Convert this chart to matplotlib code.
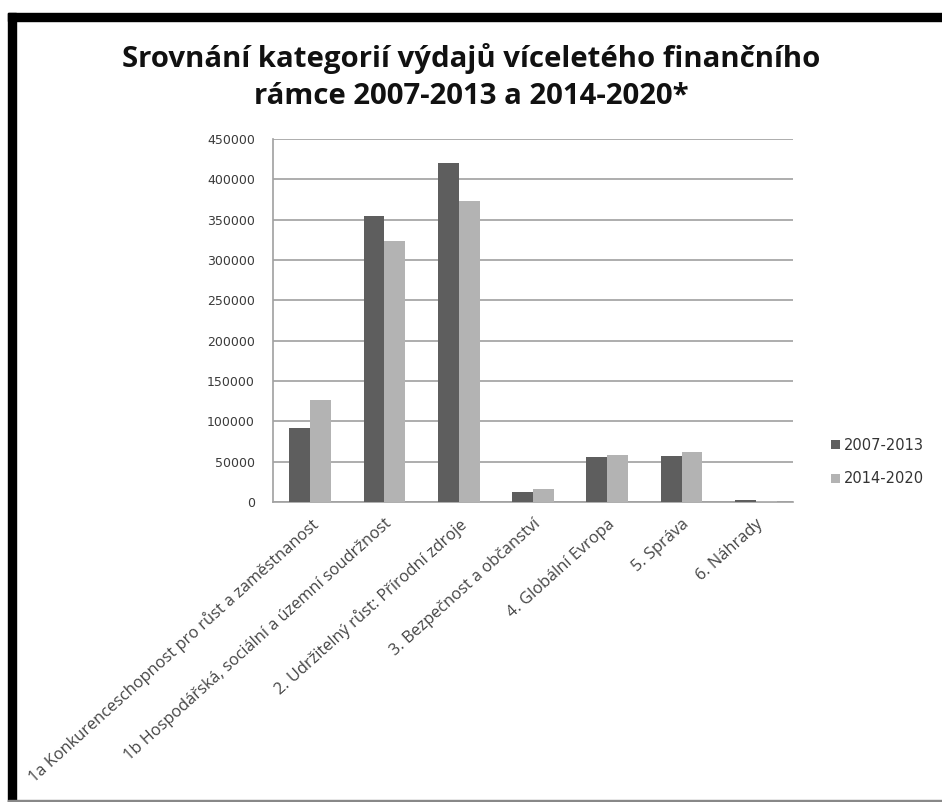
import numpy as np
import matplotlib.pyplot as plt
from matplotlib import font_manager
from matplotlib.patches import Rectangle


def pick_font(names):
    for n in names:
        try:
            font_manager.findfont(n, fallback_to_default=False)
            return n
        except Exception:
            pass
    return 'DejaVu Sans'


title_font = pick_font(['Open Sans', 'DejaVu Sans'])
label_font = pick_font(['Open Sans', 'DejaVu Sans'])

categories = ['1a Konkurenceschopnost pro růst a zaměstnanost',
              '1b Hospodářská, sociální a územní soudržnost',
              '2. Udržitelný růst: Přírodní zdroje',
              '3. Bezpečnost a občanství',
              '4. Globální Evropa',
              '5. Správa',
              '6. Náhrady']
v_2007 = [92000, 355000, 420000, 12000, 56000, 56500, 2000]
v_2014 = [126000, 324000, 373000, 15500, 58000, 61500, 1200]
series_names = ['2007-2013', '2014-2020']
yticks = [0, 50000, 100000, 150000, 200000, 250000, 300000, 350000, 400000, 450000]

fig = plt.figure(figsize=(9.42, 8.02), dpi=100)
ax = fig.add_axes([273/942, 1-502/802, 520/942, 363/802])

x = np.arange(len(categories))
w = 0.28
ax.bar(x - w/2, v_2007, w, color='#5e5e5e', label=series_names[0], zorder=3)
ax.bar(x + w/2, v_2014, w, color='#b3b3b3', label=series_names[1], zorder=3)

ax.set_xlim(-0.5, len(categories) - 0.5)
ax.set_ylim(0, 450000)
ax.set_yticks(yticks)
ax.set_yticklabels([str(t) for t in yticks], fontsize=9, color='#3a3a3a')
ax.yaxis.grid(True, color='#a0a0a0', lw=1.2, zorder=0)
ax.tick_params(axis='y', length=0, pad=13)
ax.tick_params(axis='x', length=0, pad=10)
ax.set_xticks(x)
ax.set_xticklabels(categories, rotation=42, ha='right', rotation_mode='anchor',
                   fontsize=11.8, family=label_font, color='#444444')
for s in ['top', 'right']:
    ax.spines[s].set_visible(False)
ax.spines['left'].set_color('#a0a0a0')
ax.spines['bottom'].set_color('#a0a0a0')
ax.spines['left'].set_linewidth(1.2)
ax.spines['bottom'].set_linewidth(1.2)

fig.text(471/942, 1-58/802, 'Srovnání kategorií výdajů víceletého finančního',
         ha='center', va='center', fontsize=21.2, fontweight='bold', family=title_font, color='#111111')
fig.text(471/942, 1-96/802, 'rámce 2007-2013 a 2014-2020*',
         ha='center', va='center', fontsize=21.2, fontweight='bold', family=title_font, color='#111111')

ax.legend(loc='center left', bbox_to_anchor=(818/942, 1-462/802), bbox_transform=fig.transFigure,
          frameon=False, fontsize=10.5, handlelength=0.6, handleheight=0.6, handletextpad=0.3,
          labelspacing=1.3, labelcolor='#333333')

# black frame on top and left, grey line at bottom
fig.patches.append(Rectangle((8/942, 0), 8/942, 1-13/802, transform=fig.transFigure,
                             color='black', zorder=10))
fig.patches.append(Rectangle((8/942, 1-21/802), 1, 8/802, transform=fig.transFigure,
                             color='black', zorder=10))
fig.patches.append(Rectangle((8/942, 0), 1, 2/802, transform=fig.transFigure,
                             color='#888888', zorder=10))

fig.savefig('out.png', dpi=100)
